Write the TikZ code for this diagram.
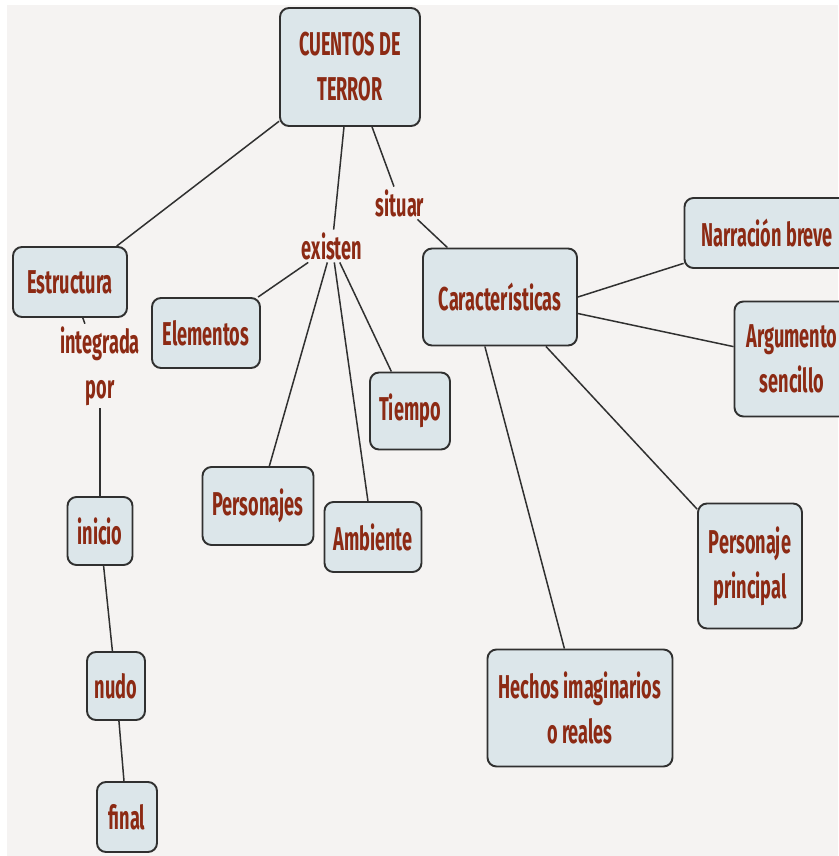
\documentclass[tikz,border=0pt]{standalone}
\usepackage{fontspec}
\newfontfamily\mapfont[FakeStretch=0.55]{Fira Sans}
\definecolor{texto}{RGB}{140,42,20}
\definecolor{caja}{RGB}{220,230,234}
\definecolor{borde}{RGB}{48,48,48}
\definecolor{fondo}{RGB}{245,243,242}
\tikzset{
  concepto/.style 2 args={draw=borde, line width=1.9pt, fill=caja, rounded corners=9pt,
    align=center, inner sep=0pt, minimum width=#1pt, minimum height=#2pt},
  enlace/.style={inner sep=2pt, align=center},
}
\begin{document}
\begin{tikzpicture}[x=1pt, y=1pt, line width=1.5pt,
    every node/.style={font=\mapfont\bfseries\fontsize{33}{45}\selectfont, text=texto}]
  % 1. fondo
  \useasboundingbox (0,0) rectangle (838,-856);
  \fill[white] (0,0) rectangle (838,-856);
  \fill[fondo] (7,-5) rectangle (838,-856);

  % 2. conceptos
  \node[concepto={140}{118}] (cuentos) at (350,-67) {CUENTOS DE\\TERROR};
  \node[concepto={114}{70}] (estructura) at (70,-282) {Estructura};
  \node[concepto={108}{70}] (elementos) at (206,-333) {Elementos};
  \node[concepto={154}{97}] (caract) at (500,-297) {Características};
  \node[concepto={165}{70}] (narracion) at (767,-233) {Narración breve};
  \node[concepto={115}{115}] (argumento) at (792,-359) {Argumento\\sencillo};
  \node[concepto={80}{77}] (tiempo) at (410,-411) {Tiempo};
  \node[concepto={111}{78}] (personajes) at (258,-506) {Personajes};
  \node[concepto={97}{70}] (ambiente) at (373,-537) {Ambiente};
  \node[concepto={104}{125}] (principal) at (750,-566) {Personaje\\principal};
  \node[concepto={185}{117}] (hechos) at (580,-708) {Hechos imaginarios\\o reales};
  \node[concepto={65}{68}] (inicio) at (100,-531) {inicio};
  \node[concepto={58}{68}] (nudo) at (116,-686) {nudo};
  \node[concepto={60}{70}] (final) at (127,-817) {final};

  % 3. palabras de enlace
  \node[enlace] (existen) at (332,-246) {existen};
  \node[enlace] (situar) at (400,-203) {situar};
  \node[enlace] (integrada) at (100,-366) {integrada\\por};

  % 4. lineas
  \draw[borde] (cuentos) -- (estructura);
  \draw[borde] (cuentos) -- (existen);
  \draw[borde] (cuentos) -- (situar);
  \draw[borde] (existen) -- (elementos);
  \draw[borde] (existen) -- (personajes);
  \draw[borde] (existen) -- (ambiente);
  \draw[borde] (existen) -- (tiempo);
  \draw[borde] (situar) -- (caract);
  \draw[borde] (caract.east) -- (narracion.200);
  \draw[borde] (caract) -- (argumento);
  \draw[borde] (caract) -- (principal);
  \draw[borde] (caract.253) -- (hechos);
  \draw[borde] (estructura) -- (integrada);
  \draw[borde] (integrada) -- (inicio);
  \draw[borde] (inicio) -- (nudo);
  \draw[borde] (nudo) -- (final);
\end{tikzpicture}
\end{document}
